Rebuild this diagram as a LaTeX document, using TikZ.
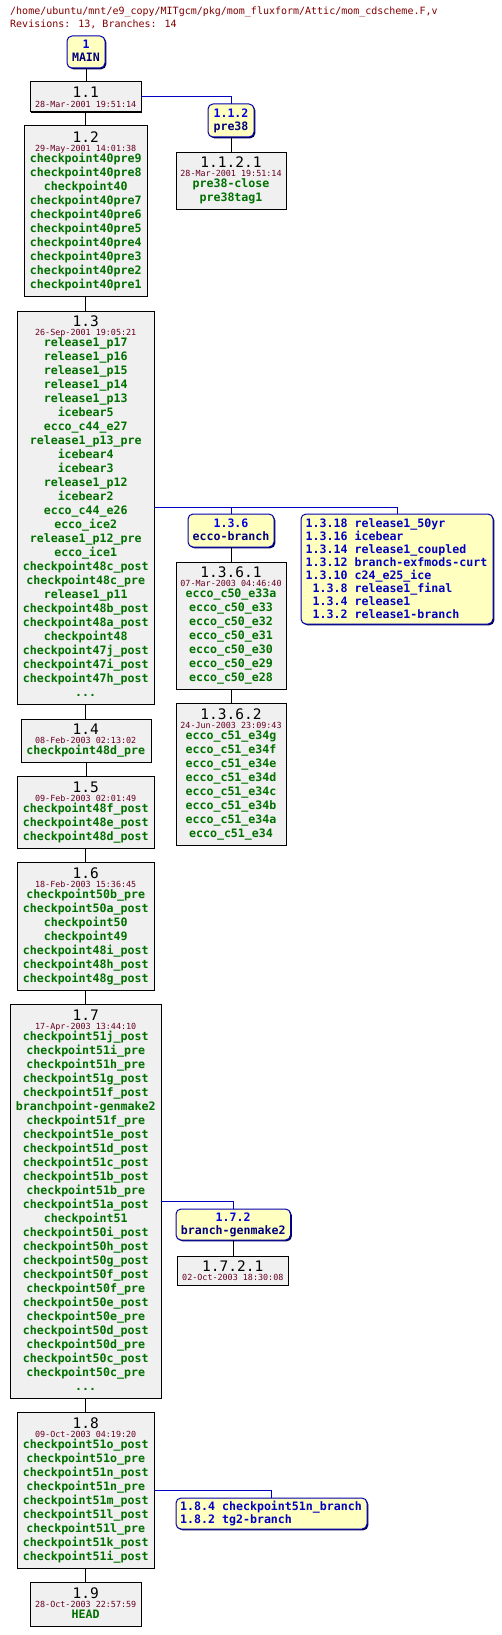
\documentclass[tikz,border=0pt]{standalone}
\usepackage{fontspec}
\newfontfamily\mono{DejaVu Sans Mono}
\definecolor{titlecol}{HTML}{800000}
\definecolor{datecol}{HTML}{660022}
\definecolor{taggreen}{HTML}{007000}
\definecolor{revfill}{HTML}{F0F0F0}
\definecolor{bryellow}{HTML}{FFFFC0}
\definecolor{brblue}{HTML}{0000B0}
\definecolor{brshadow}{HTML}{000050}
\definecolor{brlinecol}{HTML}{0000C0}
\definecolor{brnumcol}{HTML}{0000E0}
\definecolor{brnamecol}{HTML}{000080}
\definecolor{brlistcol}{HTML}{0000C0}
\tikzset{
 revbox/.style={draw=black,line width=1pt,fill=revfill,rectangle,inner sep=0pt,outer sep=0pt},
 brbox/.style={draw=brblue,line width=1pt,fill=bryellow,rectangle,rounded corners=5pt,inner sep=0pt,outer sep=0pt},
 trunk/.style={draw=black,line width=1pt},
 brline/.style={draw=brlinecol,line width=1pt},
 revnum/.style={font=\mono\fontsize{14.5}{15}\selectfont,text=black,text height=11.6pt,text depth=1pt,inner sep=0pt},
 datet/.style={font=\mono\fontsize{8.4}{9}\selectfont,text=datecol,text height=6.8pt,text depth=0.7pt,inner sep=0pt},
 tagt/.style={font=\mono\bfseries\fontsize{11.6}{12}\selectfont,text=taggreen,text height=9.3pt,text depth=2.3pt,inner sep=0pt},
 brnum/.style={tagt,text=brnumcol},
 brname/.style={tagt,text=brnamecol},
 brlist/.style={tagt,text=brlistcol,anchor=west},
 titlet/.style={font=\mono\fontsize{10}{11}\selectfont,text=titlecol,anchor=west,text height=8pt,text depth=2pt,inner sep=0pt},
}
\newcommand\threedots{...}
\newcounter{tn}
\newcommand\T[4]{\stepcounter{tn}\node[#1] (t\arabic{tn}) at (#2,#3) {#4};}
\newcommand\RevBox[5]{%
 \pgfmathsetmacro\bw{#4-#2}\pgfmathsetmacro\bh{#5-#3}%
 \fill[black] (#2+1.3,#3+1.3) rectangle (#4+1.3,#5+1.3);
 \node[revbox,minimum width=\bw pt,minimum height=\bh pt] (#1) at ({(#2+#4)/2},{(#3+#5)/2}) {};}
\newcommand\BrBox[5]{%
 \pgfmathsetmacro\bw{#4-#2}\pgfmathsetmacro\bh{#5-#3}%
 \fill[brshadow,rounded corners=5pt] (#2+1.3,#3+1.3) rectangle (#4+1.3,#5+1.3);
 \node[brbox,minimum width=\bw pt,minimum height=\bh pt] (#1) at ({(#2+#4)/2},{(#3+#5)/2}) {};}
\newcommand\Tags[3]{\foreach \s [count=\i from 0] in {#3} {\T{tagt}{#1}{#2+14*\i}{\s}}}
\newcommand\BrList[4]{\foreach \s [count=\i from 0] in {#4} {\T{brlist}{#1}{#2+#3*\i}{\s}}}
\begin{document}
\begin{tikzpicture}[x=1pt,y=-1pt]
\useasboundingbox[fill=white] (0,0) rectangle (502,1635);
% header
\T{titlet}{10}{12}{/home/ubuntu/mnt/e9\_copy/MITgcm/pkg/mom\_fluxform/Attic/mom\_cdscheme.F,v}
\T{titlet}{10}{25}{Revisions: 13, Branches: 14}
% MAIN
\BrBox{main}{67}{36}{105}{68}
\T{brnum}{86}{45}{1}
\T{brname}{86}{58}{MAIN}
% 1.1
\RevBox{r11}{30}{82}{141}{112}
\T{revnum}{85.7}{92.5}{1.1}
\T{datet}{85.7}{104}{28-Mar-2001 19:51:14}
% 1.1.2
\BrBox{b112}{208}{104}{254}{137}
\T{brnum}{231}{114}{1.1.2}
\T{brname}{231}{127}{pre38}
\RevBox{r1121}{176}{152}{286}{209}
\T{revnum}{231}{162}{1.1.2.1}
\T{datet}{231}{173}{28-Mar-2001 19:51:14}
\Tags{231}{184}{pre38-close,pre38tag1}
% 1.2
\RevBox{r12}{24}{126}{147}{296}
\T{revnum}{85.7}{137}{1.2}
\T{datet}{85.7}{148}{29-May-2001 14:01:38}
\Tags{85.7}{159}{checkpoint40pre9,checkpoint40pre8,checkpoint40,checkpoint40pre7,checkpoint40pre6,checkpoint40pre5,checkpoint40pre4,checkpoint40pre3,checkpoint40pre2,checkpoint40pre1}
% 1.3
\RevBox{r13}{17}{311}{154}{704}
\T{revnum}{85.7}{321}{1.3}
\T{datet}{85.7}{332}{26-Sep-2001 19:05:21}
\Tags{85.7}{343}{release1\_p17,release1\_p16,release1\_p15,release1\_p14,release1\_p13,icebear5,ecco\_c44\_e27,release1\_p13\_pre,icebear4,icebear3,release1\_p12,icebear2,ecco\_c44\_e26,ecco\_ice2,release1\_p12\_pre,ecco\_ice1,checkpoint48c\_post,checkpoint48c\_pre,release1\_p11,checkpoint48b\_post,checkpoint48a\_post,checkpoint48,checkpoint47j\_post,checkpoint47i\_post,checkpoint47h\_post,\threedots}
% 1.3 branches
\BrBox{b136}{188}{514}{274}{547}
\T{brnum}{231}{524}{1.3.6}
\T{brname}{231}{537}{ecco-branch}
\BrBox{b13x}{301}{514}{493}{624}
\BrList{305.5}{524}{13}{1.3.18 release1\_50yr,1.3.16 icebear,1.3.14 release1\_coupled,1.3.12 branch-exfmods-curt,1.3.10 c24\_e25\_ice,\hphantom{1}1.3.8 release1\_final,\hphantom{1}1.3.4 release1,\hphantom{1}1.3.2 release1-branch}
\RevBox{r1361}{176}{562}{286}{689}
\T{revnum}{231}{572}{1.3.6.1}
\T{datet}{231}{583}{07-Mar-2003 04:46:40}
\Tags{231}{594}{ecco\_c50\_e33a,ecco\_c50\_e33,ecco\_c50\_e32,ecco\_c50\_e31,ecco\_c50\_e30,ecco\_c50\_e29,ecco\_c50\_e28}
\RevBox{r1362}{176}{703}{286}{845}
\T{revnum}{231}{714}{1.3.6.2}
\T{datet}{231}{725}{24-Jun-2003 23:09:43}
\Tags{231}{736}{ecco\_c51\_e34g,ecco\_c51\_e34f,ecco\_c51\_e34e,ecco\_c51\_e34d,ecco\_c51\_e34c,ecco\_c51\_e34b,ecco\_c51\_e34a,ecco\_c51\_e34}
% 1.4
\RevBox{r14}{21}{719}{151}{762}
\T{revnum}{85.7}{729}{1.4}
\T{datet}{85.7}{740}{08-Feb-2003 02:13:02}
\Tags{85.7}{751}{checkpoint48d\_pre}
% 1.5
\RevBox{r15}{17}{776}{154}{848}
\T{revnum}{85.7}{787}{1.5}
\T{datet}{85.7}{798}{09-Feb-2003 02:01:49}
\Tags{85.7}{809}{checkpoint48f\_post,checkpoint48e\_post,checkpoint48d\_post}
% 1.6
\RevBox{r16}{17}{862}{154}{990}
\T{revnum}{85.7}{873}{1.6}
\T{datet}{85.7}{884}{18-Feb-2003 15:36:45}
\Tags{85.7}{895}{checkpoint50b\_pre,checkpoint50a\_post,checkpoint50,checkpoint49,checkpoint48i\_post,checkpoint48h\_post,checkpoint48g\_post}
% 1.7
\RevBox{r17}{10}{1004}{161}{1398}
\T{revnum}{85.7}{1015}{1.7}
\T{datet}{85.7}{1026}{17-Apr-2003 13:44:10}
\Tags{85.7}{1037}{checkpoint51j\_post,checkpoint51i\_pre,checkpoint51h\_pre,checkpoint51g\_post,checkpoint51f\_post,branchpoint-genmake2,checkpoint51f\_pre,checkpoint51e\_post,checkpoint51d\_post,checkpoint51c\_post,checkpoint51b\_post,checkpoint51b\_pre,checkpoint51a\_post,checkpoint51,checkpoint50i\_post,checkpoint50h\_post,checkpoint50g\_post,checkpoint50f\_post,checkpoint50f\_pre,checkpoint50e\_post,checkpoint50e\_pre,checkpoint50d\_post,checkpoint50d\_pre,checkpoint50c\_post,checkpoint50c\_pre,\threedots}
\BrBox{b172}{176}{1209}{290.5}{1240}
\T{brnum}{233.2}{1218}{1.7.2}
\T{brname}{233.2}{1231}{branch-genmake2}
\RevBox{r1721}{177.5}{1256}{288}{1285}
\T{revnum}{232.8}{1266}{1.7.2.1}
\T{datet}{232.8}{1277}{02-Oct-2003 18:30:08}
% 1.8
\RevBox{r18}{17}{1412}{154}{1568}
\T{revnum}{85.7}{1423}{1.8}
\T{datet}{85.7}{1434}{09-Oct-2003 04:19:20}
\Tags{85.7}{1445}{checkpoint51o\_post,checkpoint51o\_pre,checkpoint51n\_post,checkpoint51n\_pre,checkpoint51m\_post,checkpoint51l\_post,checkpoint51l\_pre,checkpoint51k\_post,checkpoint51i\_post}
\BrBox{b18x}{176}{1498}{367}{1529}
\BrList{180}{1507}{13}{1.8.4 checkpoint51n\_branch,1.8.2 tg2-branch}
% 1.9
\RevBox{r19}{30}{1582}{141}{1626}
\T{revnum}{85.7}{1593}{1.9}
\T{datet}{85.7}{1604}{28-Oct-2003 22:57:59}
\Tags{85.7}{1615}{HEAD}
% trunk connectors
\draw[trunk] (main.south) -- (main.south |- r11.north);
\draw[trunk] (r11.south) -- (r11.south |- r12.north);
\draw[trunk] (r12.south) -- (r12.south |- r13.north);
\draw[trunk] (r13.south) -- (r13.south |- r14.north);
\draw[trunk] (r14.south) -- (r14.south |- r15.north);
\draw[trunk] (r15.south) -- (r15.south |- r16.north);
\draw[trunk] (r16.south) -- (r16.south |- r17.north);
\draw[trunk] (r17.south) -- (r17.south |- r18.north);
\draw[trunk] (r18.south) -- (r18.south |- r19.north);
\draw[trunk] (b112.south) -- (b112.south |- r1121.north);
\draw[trunk] (b136.south) -- (b136.south |- r1361.north);
\draw[trunk] (r1361.south) -- (r1361.south |- r1362.north);
\draw[trunk] (b172.south) -- (b172.south |- r1721.north);
% branch connectors
\draw[brline] (r11.east) -| (b112.north);
\draw[brline] (r13.east) -| (b136.north);
\draw[brline] (r13.east) -| (b13x.north);
\draw[brline] (r17.east) -| (b172.north);
\draw[brline] (r18.east) -| (b18x.north);
\end{tikzpicture}
\end{document}
